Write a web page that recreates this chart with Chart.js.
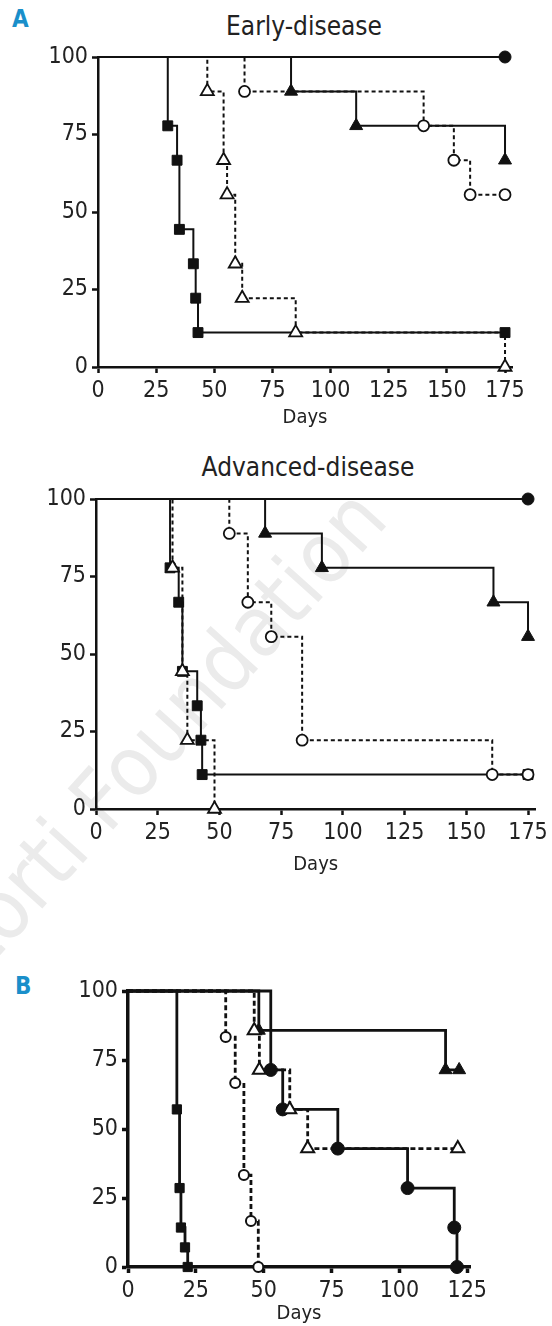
<!DOCTYPE html>
<html>
<head>
<meta charset="utf-8">
<script src="https://cdn.jsdelivr.net/npm/chart.js@4.4.1/dist/chart.umd.min.js"></script>
<style>
  html, body { margin: 0; padding: 0; background: #fff; overflow: hidden; }
  body { width: 552px; height: 1326px; position: relative; color: #222;
         font-family: 'Liberation Sans Narrow', 'DejaVu Sans Condensed', sans-serif; }
  canvas { position: absolute; left: 0; }
  .lbl { position: absolute; white-space: nowrap; line-height: 1; }
  .panel { font-weight: bold; color: #1a8fca; font-size: 24px; }
  .title { font-size: 26px; transform: translate(-50%, -50%); }
  .wm { position: absolute; left: 0; top: 0; white-space: nowrap; line-height: 1;
        font-size: 84px; color: #ebebeb; transform-origin: 0 0;
        transform: translate(372px, 505px) rotate(-48deg) translate(-100%, -55%); }
</style>
</head>
<body>
<div class="wm">Storti Foundation</div>
<div class="lbl panel" style="left:12px;top:7px">A</div>
<div class="lbl title" style="left:304px;top:26px">Early-disease</div>
<canvas id="early" width="552" height="440" style="top:0"></canvas>
<div class="lbl title" style="left:308px;top:467px">Advanced-disease</div>
<canvas id="advanced" width="552" height="440" style="top:440px"></canvas>
<div class="lbl panel" style="left:15px;top:974px">B</div>
<canvas id="panelB" width="552" height="446" style="top:880px"></canvas>
<script>
// tick labels
const survTicks = [0, 25, 50, 75, 100];
const dayTicksA = [0, 25, 50, 75, 100, 125, 150, 175];
const dayTicksB = [0, 25, 50, 75, 100, 125];

// A, early-disease: days of events and % survival after each event
const earlyFilledCircleDays = [0, 175];
const earlyFilledCircleSurv = [100, 100];
const earlySquareDays = [0, 30, 34, 35, 41, 42, 43, 175];
const earlySquareSurv = [100, 77.8, 66.7, 44.4, 33.3, 22.2, 11.1, 11.1];
const earlyOpenTriDays = [0, 47, 54, 55.5, 59, 62, 85, 175];
const earlyOpenTriSurv = [100, 88.9, 66.7, 55.6, 33.3, 22.2, 11.1, 0];
const earlyOpenCircleDays = [0, 63, 140, 153, 160, 175];
const earlyOpenCircleSurv = [100, 88.9, 77.8, 66.7, 55.6, 55.6];
const earlyFilledTriDays = [0, 83, 111, 175];
const earlyFilledTriSurv = [100, 88.9, 77.8, 66.7];

// A, advanced-disease
const advFilledCircleDays = [0, 175];
const advFilledCircleSurv = [100, 100];
const advSquareDays = [0, 30, 33.5, 35, 41, 42.5, 43, 175];
const advSquareSurv = [100, 77.8, 66.7, 44.4, 33.3, 22.2, 11.1, 11.1];
const advOpenTriDays = [0, 31, 35, 37, 48];
const advOpenTriSurv = [100, 77.8, 44.4, 22.2, 0];
const advOpenCircleDays = [0, 54, 61.5, 71, 83.5, 160.5, 175];
const advOpenCircleSurv = [100, 88.9, 66.7, 55.6, 22.2, 11.1, 11.1];
const advFilledTriDays = [0, 68.5, 91.5, 161, 175];
const advFilledTriSurv = [100, 88.9, 77.8, 66.7, 55.6];

// B
const bSquareDays = [0, 18, 19, 19.5, 21, 22];
const bSquareSurv = [100, 57.1, 28.6, 14.3, 7.1, 0];
const bOpenCircleDays = [0, 36, 39.5, 42.7, 45.3, 48];
const bOpenCircleSurv = [100, 83.3, 66.7, 33.3, 16.7, 0];
const bOpenTriDays = [0, 46.5, 48.4, 59.6, 66.2, 121.5];
const bOpenTriSurv = [100, 85.7, 71.4, 57.1, 42.9, 42.9];
const bFilledTriDays = [0, 48.2, 117, 122];
const bFilledTriSurv = [100, 85.7, 71.4, 71.4];
const bFilledCircleDays = [0, 52.6, 57, 77.3, 103, 120.2, 121.2];
const bFilledCircleSurv = [100, 71.4, 57.1, 42.9, 28.6, 14.3, 0];

const ink = '#111';
const textInk = '#222';
const FONT = "'Liberation Sans Narrow', 'DejaVu Sans Condensed', sans-serif";

const F_CIRCLE = { shape: 'circle', key: 'fCircle', open: false, dashed: false };
const O_CIRCLE = { shape: 'circle', key: 'oCircle', open: true, dashed: true };
const SQUARE = { shape: 'rect', key: 'square', open: false, dashed: false };
const O_TRI = { shape: 'triangle', key: 'tri', open: true, dashed: true };
const F_TRI = { shape: 'triangle', key: 'tri', open: false, dashed: false };

function series(days, surv, look, p) {
  return {
    data: days.map((d, i) => ({ x: d, y: surv[i] })),
    stepped: 'before',
    fill: false,
    clip: false,
    borderColor: ink,
    borderWidth: p.lineW,
    borderDash: look.dashed ? p.dash : [],
    pointStyle: look.shape,
    pointRadius: c => c.dataIndex === 0 ? 0 : p.r[look.key],
    pointBackgroundColor: look.open ? '#fff' : ink,
    pointBorderColor: ink,
    pointBorderWidth: look.open ? p.openW : 1
  };
}

function survChart(id, p, datasets) {
  const tickFont = { family: FONT, size: 23 };
  return new Chart(document.getElementById(id), {
    type: 'line',
    data: { datasets: datasets },
    options: {
      responsive: false,
      animation: false,
      events: [],
      layout: { padding: { left: 0, top: p.top, right: p.right, bottom: 0 } },
      plugins: { legend: { display: false }, tooltip: { enabled: false } },
      scales: {
        x: {
          type: 'linear', min: 0, max: p.xMax,
          afterBuildTicks: s => { s.ticks = p.xTicks.map(v => ({ value: v })); },
          afterFit: s => { s.height = p.xAxisH; },
          border: { color: ink, width: p.axisW },
          grid: { drawOnChartArea: false, tickLength: 6, tickWidth: p.axisW, tickColor: ink },
          ticks: { color: textInk, font: tickFont, padding: 4, maxRotation: 0, autoSkip: false },
          title: { display: true, text: 'Days', color: textInk,
                   font: { family: FONT, size: 20 }, padding: { top: 0, bottom: p.daysPad } }
        },
        y: {
          type: 'linear', min: 0, max: 100,
          afterBuildTicks: s => { s.ticks = survTicks.map(v => ({ value: v })); },
          afterFit: s => { s.width = p.yAxisW; },
          border: { color: ink, width: p.axisW },
          grid: { drawOnChartArea: false, tickLength: 6, tickWidth: p.axisW, tickColor: ink },
          ticks: { color: textInk, font: tickFont, padding: 4 }
        }
      }
    }
  });
}

const pEarly = { top: 57, right: 40, xMax: 178, xTicks: dayTicksA, xAxisH: 73, yAxisW: 98,
  daysPad: 10, axisW: 2.5, lineW: 2, dash: [4, 3], openW: 1.8,
  r: { fCircle: 6, oCircle: 5.5, square: 7, tri: 7.5 } };
const pAdv = { top: 59, right: 14, xMax: 178, xTicks: dayTicksA, xAxisH: 71, yAxisW: 96,
  daysPad: 3, axisW: 2.5, lineW: 2, dash: [4, 3], openW: 1.8,
  r: { fCircle: 6, oCircle: 5.5, square: 7, tri: 7.5 } };
const pB = { top: 111, right: 82, xMax: 126, xTicks: dayTicksB, xAxisH: 59, yAxisW: 128,
  daysPad: 0, axisW: 3.5, lineW: 2.8, dash: [5, 3], openW: 2,
  r: { fCircle: 6.5, oCircle: 5, square: 6.5, tri: 7.5 } };

survChart('early', pEarly, [
  series(earlyOpenCircleDays, earlyOpenCircleSurv, O_CIRCLE, pEarly),
  series(earlyOpenTriDays, earlyOpenTriSurv, O_TRI, pEarly),
  series(earlyFilledCircleDays, earlyFilledCircleSurv, F_CIRCLE, pEarly),
  series(earlySquareDays, earlySquareSurv, SQUARE, pEarly),
  series(earlyFilledTriDays, earlyFilledTriSurv, F_TRI, pEarly)
]);

survChart('advanced', pAdv, [
  series(advOpenTriDays, advOpenTriSurv, O_TRI, pAdv),
  series(advOpenCircleDays, advOpenCircleSurv, O_CIRCLE, pAdv),
  series(advFilledCircleDays, advFilledCircleSurv, F_CIRCLE, pAdv),
  series(advSquareDays, advSquareSurv, SQUARE, pAdv),
  series(advFilledTriDays, advFilledTriSurv, F_TRI, pAdv)
]);

survChart('panelB', pB, [
  series(bOpenTriDays, bOpenTriSurv, O_TRI, pB),
  series(bOpenCircleDays, bOpenCircleSurv, O_CIRCLE, pB),
  series(bFilledCircleDays, bFilledCircleSurv, F_CIRCLE, pB),
  series(bSquareDays, bSquareSurv, SQUARE, pB),
  series(bFilledTriDays, bFilledTriSurv, F_TRI, pB)
]);
</script>
</body>
</html>
